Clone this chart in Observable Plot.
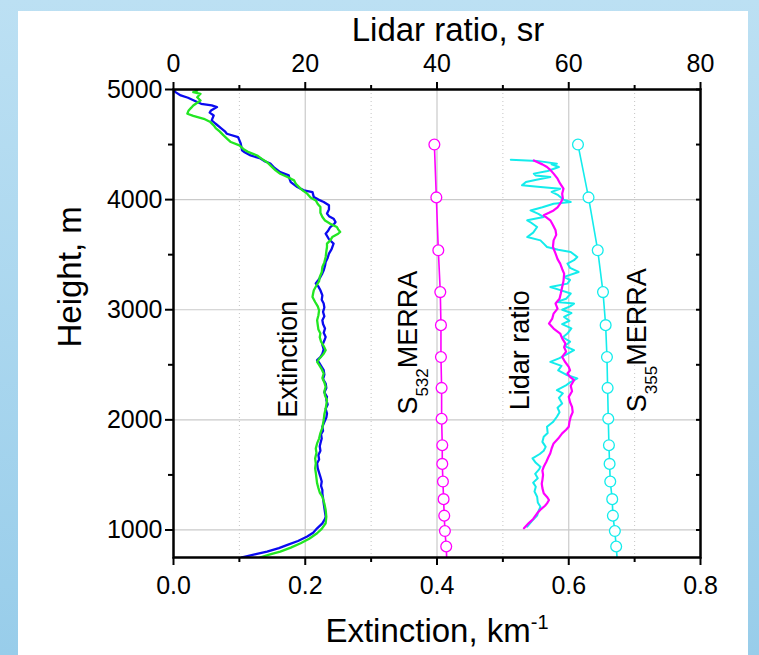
<!DOCTYPE html>
<html><head><meta charset="utf-8">
<script src="https://cdn.jsdelivr.net/npm/d3@7"></script>
<script src="https://cdn.jsdelivr.net/npm/@observablehq/plot@0.6"></script>
<style>
html,body{margin:0;padding:0;background:#fff;}
#wrap{position:relative;width:759px;height:655px;overflow:hidden;background:linear-gradient(180deg,#bce0f3 0%,#98cdea 100%);}
#panel{position:absolute;left:18px;top:11px;width:730px;height:644px;background:#fff;}
#chart{position:absolute;left:0;top:0;}
</style></head><body>
<div id="wrap"><div id="panel"></div><div id="chart"></div></div>
<script>
// ---- tick values ----
const heightTicks = [1000, 2000, 3000, 4000, 5000];
const heightMinorTicks = [1500, 2500, 3500, 4500];
const extTicks = [0, 0.2, 0.4, 0.6, 0.8];
const extMinorTicks = [0.1, 0.3, 0.5, 0.7];
const srTicks = [0, 20, 40, 60, 80];
const srMinorTicks = [10, 30, 50, 70];

// ---- titles & labels ----
const xTitle = "Extinction, km^-1";
const x2Title = "Lidar ratio, sr";
const yTitle = "Height, m";
const labelTexts = ["Extinction", "S_532_MERRA", "Lidar ratio", "S_355_MERRA"];
const labelExt = [0.1747, 0.3567, 0.526, 0.7035];
const labelHeight = [2551, 2701, 2633, 2723];

// ---- extinction profiles [height m, extinction km-1] ----
const extBlue = [
[752,0.104],[780,0.125],[803,0.142],[835,0.160],[864,0.173],[900,0.189],[940,0.203],[975,0.212],[1015,0.218],[1060,0.226],[1100,0.230],[1121,0.231],[1160,0.230],[1200,0.229],[1242,0.228],[1290,0.227],[1330,0.226],[1363,0.226],[1400,0.224],[1440,0.225],[1483,0.223],[1520,0.221],[1560,0.219],[1605,0.218],[1640,0.221],[1680,0.220],[1720,0.223],[1760,0.222],[1786,0.223],[1830,0.225],[1870,0.224],[1900,0.227],[1937,0.226],[1980,0.229],[2020,0.232],[2058,0.233],[2100,0.231],[2140,0.234],[2180,0.232],[2209,0.233],[2250,0.229],[2290,0.232],[2330,0.231],[2370,0.227],[2410,0.229],[2451,0.228],[2490,0.224],[2520,0.221],[2542,0.218],[2570,0.223],[2600,0.226],[2640,0.228],[2680,0.226],[2720,0.229],[2753,0.231],[2790,0.228],[2830,0.230],[2870,0.227],[2905,0.226],[2940,0.229],[2980,0.227],[3020,0.229],[3056,0.228],[3090,0.225],[3130,0.226],[3177,0.223],[3210,0.220],[3238,0.216],[3270,0.220],[3297,0.223],[3330,0.226],[3358,0.228],[3400,0.230],[3434,0.231],[3470,0.234],[3510,0.236],[3550,0.240],[3600,0.243],[3640,0.236],[3691,0.231],[3720,0.235],[3751,0.238],[3780,0.244],[3797,0.246],[3827,0.243],[3850,0.236],[3873,0.233],[3910,0.236],[3948,0.236],[3978,0.228],[4000,0.220],[4023,0.213],[4068,0.211],[4084,0.198],[4114,0.188],[4159,0.178],[4190,0.176],[4220,0.175],[4250,0.162],[4290,0.153],[4328,0.147],[4350,0.138],[4374,0.132],[4401,0.117],[4430,0.108],[4447,0.104],[4480,0.103],[4510,0.102],[4540,0.100],[4567,0.098],[4598,0.081],[4620,0.078],[4650,0.072],[4689,0.064],[4720,0.058],[4764,0.061],[4790,0.055],[4810,0.057],[4840,0.066],[4855,0.058],[4870,0.042],[4900,0.031],[4925,0.022],[4946,0.011],[4976,0.003],[5000,0.000]
];
const extGreen = [
[752,0.132],[780,0.148],[803,0.162],[840,0.178],[879,0.193],[920,0.206],[970,0.218],[1010,0.225],[1061,0.231],[1120,0.232],[1181,0.231],[1240,0.229],[1302,0.226],[1340,0.222],[1380,0.220],[1424,0.218],[1470,0.217],[1520,0.216],[1560,0.215],[1605,0.216],[1650,0.215],[1700,0.217],[1740,0.216],[1786,0.218],[1830,0.221],[1880,0.223],[1930,0.226],[1998,0.228],[2050,0.229],[2100,0.231],[2140,0.232],[2179,0.233],[2220,0.230],[2260,0.229],[2300,0.231],[2340,0.229],[2380,0.226],[2421,0.228],[2460,0.225],[2500,0.221],[2527,0.218],[2560,0.222],[2600,0.228],[2633,0.231],[2670,0.228],[2710,0.224],[2750,0.222],[2784,0.223],[2820,0.220],[2860,0.219],[2905,0.218],[2950,0.220],[2995,0.221],[3030,0.219],[3070,0.215],[3116,0.211],[3150,0.212],[3177,0.213],[3220,0.217],[3260,0.221],[3297,0.222],[3340,0.225],[3388,0.226],[3430,0.229],[3479,0.231],[3530,0.232],[3570,0.233],[3600,0.233],[3630,0.238],[3660,0.241],[3690,0.250],[3706,0.253],[3730,0.250],[3751,0.248],[3780,0.238],[3810,0.230],[3842,0.226],[3880,0.223],[3932,0.223],[3960,0.219],[3993,0.216],[4020,0.208],[4054,0.203],[4080,0.197],[4100,0.193],[4140,0.186],[4175,0.183],[4205,0.173],[4235,0.162],[4265,0.155],[4300,0.149],[4340,0.142],[4370,0.134],[4401,0.127],[4431,0.114],[4460,0.106],[4493,0.100],[4523,0.087],[4550,0.082],[4583,0.076],[4620,0.070],[4650,0.064],[4674,0.061],[4704,0.056],[4734,0.046],[4760,0.030],[4780,0.021],[4810,0.023],[4835,0.027],[4855,0.030],[4880,0.036],[4900,0.041],[4930,0.036],[4961,0.041],[4976,0.030],[4990,0.036]
];

// ---- measured lidar ratio profiles [height m, sr] ----
const lrMagenta = [
[1015,53.2],[1060,53.9],[1100,54.6],[1151,55.2],[1190,55.8],[1220,56.4],[1242,56.7],[1272,57.0],[1300,56.7],[1333,56.2],[1380,56.0],[1420,55.9],[1453,56.0],[1500,56.1],[1540,56.0],[1574,56.2],[1620,56.6],[1660,56.9],[1696,57.2],[1740,57.4],[1786,57.7],[1830,58.4],[1877,59.0],[1910,59.6],[1937,60.0],[1980,60.1],[2028,60.3],[2070,60.6],[2118,60.5],[2160,60.2],[2209,60.0],[2260,60.5],[2310,60.3],[2360,60.8],[2390,60.2],[2421,59.8],[2450,60.2],[2481,60.0],[2530,59.4],[2572,59.0],[2620,59.6],[2660,59.3],[2693,59.5],[2740,59.0],[2784,58.7],[2829,57.7],[2875,57.0],[2920,57.5],[2965,57.7],[3010,58.3],[3056,58.0],[3100,58.6],[3150,58.8],[3207,59.0],[3260,59.2],[3328,59.3],[3370,59.0],[3419,58.7],[3460,58.3],[3510,58.0],[3570,57.6],[3630,57.7],[3680,58.1],[3721,58.0],[3770,57.6],[3812,57.2],[3857,56.2],[3880,57.0],[3902,57.7],[3930,58.3],[3963,58.7],[4010,59.1],[4054,59.0],[4100,59.2],[4145,58.7],[4190,58.3],[4236,57.7],[4270,57.2],[4296,56.7],[4320,56.0],[4341,55.2],[4356,54.7]
];
const lrCyan = [
[1030,53.7],[1080,54.4],[1130,55.2],[1170,55.4],[1211,55.7],[1250,55.3],[1302,55.2],[1350,54.8],[1393,55.0],[1430,54.6],[1470,55.3],[1510,54.9],[1550,55.5],[1574,55.7],[1610,55.0],[1650,54.5],[1690,55.6],[1720,56.2],[1755,56.5],[1800,56.0],[1846,56.2],[1880,56.8],[1937,56.7],[1980,57.6],[2028,58.2],[2070,58.6],[2110,58.3],[2149,59.0],[2200,58.5],[2240,59.1],[2270,58.2],[2310,59.5],[2340,60.2],[2376,61.3],[2410,59.6],[2450,58.4],[2490,58.9],[2527,57.2],[2560,58.6],[2600,59.8],[2633,60.8],[2670,59.4],[2710,60.2],[2750,59.1],[2784,59.8],[2830,60.4],[2870,59.0],[2900,60.1],[2935,59.3],[2970,60.4],[3000,59.0],[3030,60.2],[3056,60.8],[3071,58.2],[3100,59.6],[3147,60.3],[3180,58.6],[3207,57.2],[3237,59.8],[3270,60.2],[3298,59.3],[3343,61.5],[3380,60.2],[3419,59.8],[3450,60.8],[3479,61.3],[3524,60.3],[3545,58.4],[3570,56.7],[3600,56.2],[3630,55.7],[3660,53.7],[3700,54.6],[3751,55.2],[3790,54.3],[3812,53.7],[3842,56.2],[3870,55.4],[3902,54.2],[3930,56.0],[3963,57.7],[3978,60.3],[4000,59.2],[4040,58.4],[4070,57.4],[4099,58.7],[4114,55.7],[4130,52.9],[4160,53.5],[4180,55.1],[4205,57.2],[4220,55.0],[4236,54.7],[4260,56.8],[4296,58.5],[4320,57.4],[4326,58.2],[4345,56.0],[4350,55.2],[4362,51.2]
];

// ---- MERRA lidar ratios ----
const merraHeights = [4500, 4020, 3540, 3160, 2860, 2570, 2290, 2010, 1770, 1600, 1440, 1280, 1130, 990, 850, 700];
const merraS532 = [39.6, 39.9, 40.2, 40.5, 40.6, 40.6, 40.7, 40.7, 40.8, 40.8, 40.9, 41.0, 41.1, 41.2, 41.4, 41.5];
const merraS355 = [61.4, 63.0, 64.4, 65.2, 65.6, 65.8, 65.9, 66.0, 66.1, 66.2, 66.3, 66.6, 66.7, 67.0, 67.2, 67.4];

// ---- build tables ----
const toExt = arr => arr.map(([h, v]) => ({h, v}));
const toSr = arr => arr.map(([h, s]) => ({h, s}));
const m532 = merraHeights.map((h, i) => ({h, s: merraS532[i]}));
const m355 = merraHeights.map((h, i) => ({h, s: merraS355[i]}));
const labels = labelTexts.map((t, i) => ({t, x: labelExt[i], y: labelHeight[i]}));
const srX = d => d.s / 100; // lidar ratio axis shares the x range: 80 sr <-> 0.8

const font = "'Liberation Sans', Arial, Helvetica, sans-serif";
const gridCol = "#cacaca";

const svg = Plot.plot({
  width: 759,
  height: 655,
  marginLeft: 173,
  marginRight: 59,
  marginTop: 89,
  marginBottom: 98,
  x: {domain: [0, 0.8]},
  y: {domain: [750, 5000]},
  style: {background: "transparent", fontFamily: font, color: "black", overflow: "visible"},
  marks: [
    Plot.gridX({ticks: extMinorTicks, stroke: "#c4c4c4", strokeOpacity: 1, strokeWidth: 1, strokeDasharray: "1,3"}),
    Plot.gridX({ticks: [0.2, 0.4, 0.6], stroke: gridCol, strokeOpacity: 1, strokeWidth: 1.2}),
    Plot.gridY({ticks: [1000, 2000, 3000, 4000], stroke: gridCol, strokeOpacity: 1, strokeWidth: 1.2}),

    Plot.line(toExt(extBlue), {x: "v", y: "h", stroke: "#0a0af0", strokeWidth: 2.3, clip: true}),
    Plot.line(toExt(extGreen), {x: "v", y: "h", stroke: "#22e622", strokeWidth: 2.3, clip: true}),

    Plot.line(toSr(lrCyan), {x: srX, y: "h", stroke: "#14ecec", strokeWidth: 2}),
    Plot.line(toSr(lrMagenta), {x: srX, y: "h", stroke: "#ff00ff", strokeWidth: 2.2}),

    Plot.line(m532, {x: srX, y: "h", stroke: "#ff00ff", strokeWidth: 1.6, clip: true}),
    Plot.dot(m532, {x: srX, y: "h", r: 5.4, fill: "white", stroke: "#ff00ff", strokeWidth: 1.3, clip: true}),
    Plot.line(m355, {x: srX, y: "h", stroke: "#14ecec", strokeWidth: 1.6, clip: true}),
    Plot.dot(m355, {x: srX, y: "h", r: 5.4, fill: "white", stroke: "#14ecec", strokeWidth: 1.3, clip: true}),

    Plot.text(labels, {x: "x", y: "y", text: "t", rotate: -90, fontSize: 27, lineAnchor: "middle", fill: "black"}),

    Plot.frame({stroke: "black", strokeWidth: 2.5}),

    // bottom axis (extinction)
    Plot.axisX({anchor: "bottom", ticks: extTicks, tickFormat: d3.format(".1f"), tickSize: 8, tickPadding: 11, strokeWidth: 2, fontSize: 25, label: null}),
    Plot.axisX({anchor: "bottom", ticks: extMinorTicks, tickFormat: () => "", tickSize: 5, strokeWidth: 2, label: null}),
    // top axis (lidar ratio)
    Plot.axisX({anchor: "top", ticks: srTicks.map(s => s / 100), tickFormat: d => String(Math.round(d * 100)), tickSize: 8, tickPadding: 10, strokeWidth: 2, fontSize: 25, label: null}),
    Plot.axisX({anchor: "top", ticks: srMinorTicks.map(s => s / 100), tickFormat: () => "", tickSize: 5, strokeWidth: 2, label: null}),
    // left axis
    Plot.axisY({anchor: "left", ticks: heightTicks, tickFormat: d => String(d), tickSize: 8, tickPadding: 3, strokeWidth: 2, fontSize: 25, label: null}),
    Plot.axisY({anchor: "left", ticks: heightMinorTicks, tickFormat: () => "", tickSize: 5, strokeWidth: 2, label: null}),
    // right axis (inward ticks)
    Plot.axisY({anchor: "right", ticks: heightTicks.concat(heightMinorTicks), tickFormat: () => "", tickSize: 5, dx: -5, strokeWidth: 2, label: null}),

    // axis titles
    Plot.text([x2Title], {text: d => d, frameAnchor: "top", lineAnchor: "middle", dx: 11, dy: -59, fontSize: 33, fill: "black"}),
    Plot.text([xTitle], {text: d => d, frameAnchor: "bottom", lineAnchor: "middle", dx: 0, dy: 74, fontSize: 33, fill: "black"}),
    Plot.text([yTitle], {text: d => d, frameAnchor: "left", lineAnchor: "middle", rotate: -90, dx: -103, dy: 24, fontSize: 33, fill: "black"})
  ]
});

document.getElementById("chart").append(svg);

// sub/superscripts
const NS = "http://www.w3.org/2000/svg";
svg.querySelectorAll("text").forEach(t => {
  const s = t.textContent;
  if (s.includes("_")) {
    const [a, b, c] = s.split("_");
    t.textContent = a;
    const sub = document.createElementNS(NS, "tspan");
    sub.setAttribute("dy", "11"); sub.setAttribute("font-size", "17"); sub.textContent = b;
    const rest = document.createElementNS(NS, "tspan");
    rest.setAttribute("dy", "-11"); rest.textContent = c;
    t.append(sub, rest);
  } else if (s.includes("^")) {
    const [a, b] = s.split("^");
    t.textContent = a;
    const sup = document.createElementNS(NS, "tspan");
    sup.setAttribute("dy", "-13"); sup.setAttribute("font-size", "20"); sup.textContent = b;
    t.append(sup);
  }
});
</script>
</body></html>
